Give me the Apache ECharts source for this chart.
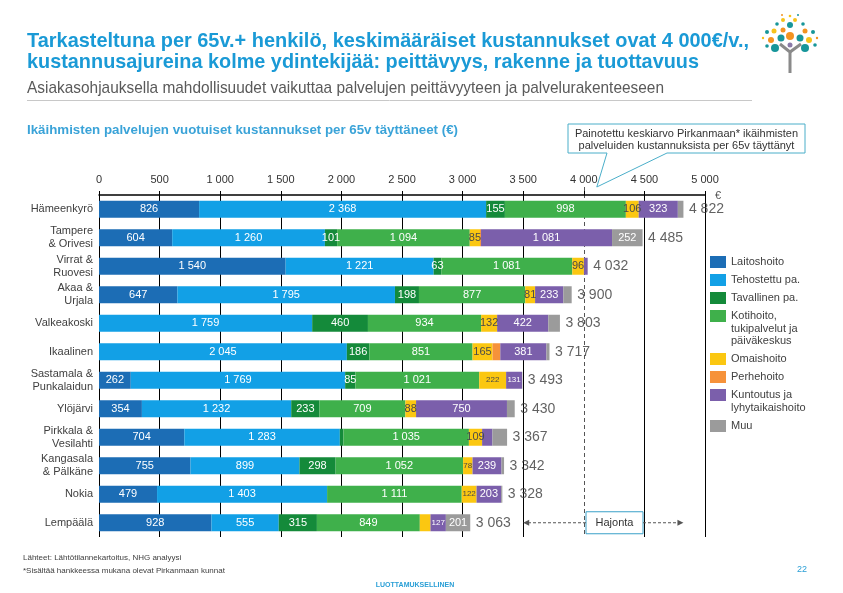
<!DOCTYPE html>
<html><head><meta charset="utf-8">
<script src="https://cdn.jsdelivr.net/npm/echarts@6/dist/echarts.min.js"></script>
<style>html,body{margin:0;padding:0;background:#fff}#c{width:843px;height:593px}</style>
</head><body><div id="c"></div>
<script>
const categories = ['Hämeenkyrö','Tampere\n& Orivesi','Virrat &\nRuovesi','Akaa &\nUrjala','Valkeakoski','Ikaalinen','Sastamala &\nPunkalaidun','Ylöjärvi','Pirkkala &\nVesilahti','Kangasala\n& Pälkäne','Nokia','Lempäälä'];
const laitoshoito = [826,604,1540,647,0,0,262,354,704,755,479,928];
const tehostettu  = [2368,1260,1221,1795,1759,2045,1769,1232,1283,899,1403,555];
const tavallinen  = [155,101,63,198,460,186,85,233,30,298,0,315];
const kotihoito   = [998,1094,1081,877,934,851,1021,709,1035,1052,1111,849];
const omaishoito  = [106,85,96,81,132,165,222,88,109,78,122,88];
const perhehoito  = [0,8,0,0,0,64,0,0,0,0,0,0];
const kuntoutus   = [323,1081,31,233,422,381,131,750,85,239,203,127];
const muu         = [46,252,0,69,96,25,3,64,121,21,10,201];
const totals      = [4822,4485,4032,3900,3803,3717,3493,3430,3367,3342,3328,3063];
const seriesNames = ['Laitoshoito','Tehostettu pa.','Tavallinen pa.','Kotihoito, tukipalvelut ja päiväkeskus','Omaishoito','Perhehoito','Kuntoutus ja lyhytaikaishoito','Muu'];
const legendLabels = ['Laitoshoito','Tehostettu pa.','Tavallinen pa.','Kotihoito,\ntukipalvelut ja\npäiväkeskus','Omaishoito','Perhehoito','Kuntoutus ja\nlyhytaikaishoito','Muu'];
const seriesColors = ['#1c6db5','#12a0e6','#148a3a','#3fb04b','#fbc711','#f6923a','#7b5fab','#9b9b9b'];
const xTickMin = 0, xTickMax = 5000, xTickStep = 500;
const averageValue = 4000;
// label visibility (indices of hidden / small labels per series)
const hiddenLabels = [[],[],[8],[],[11],[0,1,2,3,4,5,6,7,8,9,10,11],[2,8],[0,2,3,4,5,6,7,8,9,10]];
const smallLabels  = [[],[],[],[],[6,9,10],[],[6,11],[]];

const seriesValues = [laitoshoito,tehostettu,tavallinen,kotihoito,omaishoito,perhehoito,kuntoutus,muu];
const fmt = v => String(v).replace(/\B(?=(\d{3})+(?!\d))/g, ' ');

const chart = echarts.init(document.getElementById('c'), null, {renderer:'canvas'});

const series = seriesValues.map((vals, si) => ({
  name: seriesNames[si],
  type: 'bar',
  stack: 'total',
  barWidth: 17,
  z: 5,
  itemStyle: {color: seriesColors[si]},
  label: {show: true, position: 'inside', color: si === 4 ? '#4a4a4a' : '#ffffff', fontSize: 11, fontFamily: 'Liberation Sans', formatter: p => fmt(p.value)},
  data: vals.map((v, i) => {
    const item = {value: v};
    if (v === 0 || hiddenLabels[si].includes(i)) item.label = {show: false};
    else if (smallLabels[si].includes(i)) item.label = {fontSize: 8};
    return item;
  })
}));
series.push({
  name: 'Yhteensä', type: 'scatter', symbolSize: 1, itemStyle: {color: 'rgba(0,0,0,0)'},
  label: {show: true, position: 'right', distance: 5, color: '#3a3a3a', fontSize: 14, fontFamily: 'Liberation Sans', formatter: p => fmt(p.value[0])},
  data: totals.map((t, i) => [t, i]), z: 6
});

const splitColors = [];
for (let v = xTickMin; v <= xTickMax; v += xTickStep) splitColors.push(v === averageValue ? 'rgba(0,0,0,0)' : '#000');

chart.setOption({
  animation: false,
  grid: {left: 99, right: 138, top: 195, bottom: 56, containLabel: false},
  xAxis: {
    type: 'value', position: 'top', min: xTickMin, max: xTickMax, interval: xTickStep,
    axisLine: {show: true, lineStyle: {color: '#000', width: 1.5}},
    axisTick: {show: true, length: 4, lineStyle: {color: '#000'}},
    axisLabel: {fontSize: 11, color: '#333', margin: 10, fontFamily: 'Liberation Sans', formatter: v => fmt(v)},
    splitLine: {show: true, showMinLine: true, showMaxLine: true, lineStyle: {color: splitColors, width: 1}}
  },
  yAxis: {
    type: 'category', inverse: true, data: categories,
    axisLine: {show: false}, axisTick: {show: false},
    axisLabel: {fontSize: 11, color: '#404040', lineHeight: 13, margin: 6, fontFamily: 'Liberation Sans', align: 'right'}
  },
  series: series
});

const px = v => chart.convertToPixel({xAxisIndex: 0}, v);
const py = i => chart.convertToPixel({yAxisIndex: 0}, i);
const gridBottom = 593 - 56;

const mctx = document.createElement('canvas').getContext('2d');
const g = [];
const T = (text, x, y, font, fill, align, extra) => g.push(Object.assign({type: 'text', x: x, y: y, style: {text: text, font: font, fill: fill, textAlign: align || 'left', textVerticalAlign: 'middle'}}, extra || {}));
const TFit = (text, x, y, font, fill, width) => { mctx.font = font; const w = mctx.measureText(text).width; T(text, x, y, font, fill, 'left', {scaleX: width / w, originX: 0}); };

// dashed average line (behind bars)
const ax = Math.round(px(averageValue)) + 0.5;
g.push({type: 'line', z: -10, shape: {x1: ax, y1: 187, x2: ax, y2: gridBottom}, style: {stroke: '#555', lineWidth: 1, lineDash: [4, 3]}});

// titles
TFit('Tarkasteltuna per 65v.+ henkilö, keskimääräiset kustannukset ovat 4 000€/v.,', 27, 41, 'bold 21px "Liberation Sans"', '#1a9ad6', 722);
TFit('kustannusajureina kolme ydintekijää: peittävyys, rakenne ja tuottavuus', 27, 62, 'bold 21px "Liberation Sans"', '#1a9ad6', 672);
TFit('Asiakasohjauksella mahdollisuudet vaikuttaa palvelujen peittävyyteen ja palvelurakenteeseen', 27, 88, '17px "Liberation Sans"', '#5a5a5a', 637);
g.push({type: 'line', shape: {x1: 27, y1: 100.5, x2: 752, y2: 100.5}, style: {stroke: '#c8c8c8', lineWidth: 1}});
TFit('Ikäihmisten palvelujen vuotuiset kustannukset per 65v täyttäneet (€)', 27, 130, 'bold 13px "Liberation Sans"', '#3aa3d8', 431);
T('€', px(xTickMax) + 13, 196, '11px "Liberation Sans"', '#555', 'center');

// callout
const tipX = px(averageValue) + 13;
g.push({type: 'polygon', z: 10, shape: {points: [[568,124],[805,124],[805,153],[667,153],[tipX,187],[607,153],[568,153]]}, style: {fill: '#fff', stroke: '#4aaec9', lineWidth: 1}});
T('Painotettu keskiarvo Pirkanmaan* ikäihmisten', 686.5, 134, '11px "Liberation Sans"', '#333', 'center', {z: 11});
T('palveluiden kustannuksista per 65v täyttänyt', 686.5, 146, '11px "Liberation Sans"', '#333', 'center', {z: 11});

// legend
const legendY = [262, 280, 298, 316, 359, 377, 395, 426];
legendLabels.forEach((lab, i) => {
  g.push({type: 'rect', shape: {x: 710, y: legendY[i] - 6, width: 16, height: 12}, style: {fill: seriesColors[i]}});
  lab.split('\n').forEach((line, k) => T(line, 731, legendY[i] + k * 12.5, '11px "Liberation Sans"', '#404040'));
});

// Hajonta annotation
const hy = py(11);
const hx1 = 586, hx2 = 643;
g.push({type: 'rect', z: 10, shape: {x: hx1, y: hy - 11, width: hx2 - hx1, height: 22}, style: {fill: '#fff', stroke: '#3aa0c8', lineWidth: 1}});
T('Hajonta', (hx1 + hx2) / 2, hy, '11px "Liberation Sans"', '#333', 'center', {z: 11});
const aL = px(3500), aR = px(4822);
g.push({type: 'line', z: 10, shape: {x1: hx1, y1: hy, x2: aL + 5, y2: hy}, style: {stroke: '#555', lineWidth: 1, lineDash: [3, 2]}});
g.push({type: 'polygon', z: 10, shape: {points: [[aL, hy], [aL + 6, hy - 3], [aL + 6, hy + 3]]}, style: {fill: '#555'}});
g.push({type: 'line', z: 10, shape: {x1: hx2, y1: hy, x2: aR - 5, y2: hy}, style: {stroke: '#555', lineWidth: 1, lineDash: [3, 2]}});
g.push({type: 'polygon', z: 10, shape: {points: [[aR, hy], [aR - 6, hy - 3], [aR - 6, hy + 3]]}, style: {fill: '#555'}});

// footer
T('Lähteet: Lähtötilannekartoitus, NHG analyysi', 23, 558, '8px "Liberation Sans"', '#404040');
T('*Sisältää hankkeessa mukana olevat Pirkanmaan kunnat', 23, 571, '8px "Liberation Sans"', '#404040');
T('LUOTTAMUKSELLINEN', 415, 585, 'bold 7px "Liberation Sans"', '#2a9fd6', 'center');
T('22', 802, 570, '9px "Liberation Sans"', '#2a9fd6', 'center');

// logo (decorative tree)
const lx = 790;
g.push({type: 'polyline', shape: {points: [[lx, 73], [lx, 52], [lx - 10, 44]]}, style: {stroke: '#8a8a8a', lineWidth: 3, fill: null}});
g.push({type: 'line', shape: {x1: lx, y1: 52, x2: lx + 11, y2: 44}, style: {stroke: '#8a8a8a', lineWidth: 3}});
const dots = [[-15,48,4,'#17969a'],[15,48,4,'#17969a'],[-9,38,3.5,'#17969a'],[10,38,3.5,'#17969a'],[0,36,4,'#f39321'],
  [-19,40,3,'#f39321'],[-7,30,2.5,'#f39321'],[15,31,2.5,'#f39321'],[-16,31,2.5,'#f6c21a'],[19,40,3,'#f6c21a'],
  [-7,20,2,'#f6c21a'],[5,20,2,'#f6c21a'],[-23,32,2,'#17969a'],[23,32,2,'#17969a'],[-23,46,1.8,'#17969a'],[25,45,1.8,'#17969a'],
  [0,25,3,'#17969a'],[-13,24,1.8,'#17969a'],[13,24,1.8,'#17969a'],[0,45,2.5,'#8a7aa8'],[0,16,1.3,'#f6c21a'],[-8,15,1,'#f39321'],[8,15,1,'#17969a'],[-27,38,1.2,'#f6c21a'],[27,38,1.2,'#f39321']];
dots.forEach(d => g.push({type: 'circle', shape: {cx: lx + d[0], cy: d[1], r: d[2]}, style: {fill: d[3]}}));

chart.setOption({graphic: g});
</script>
</body></html>
